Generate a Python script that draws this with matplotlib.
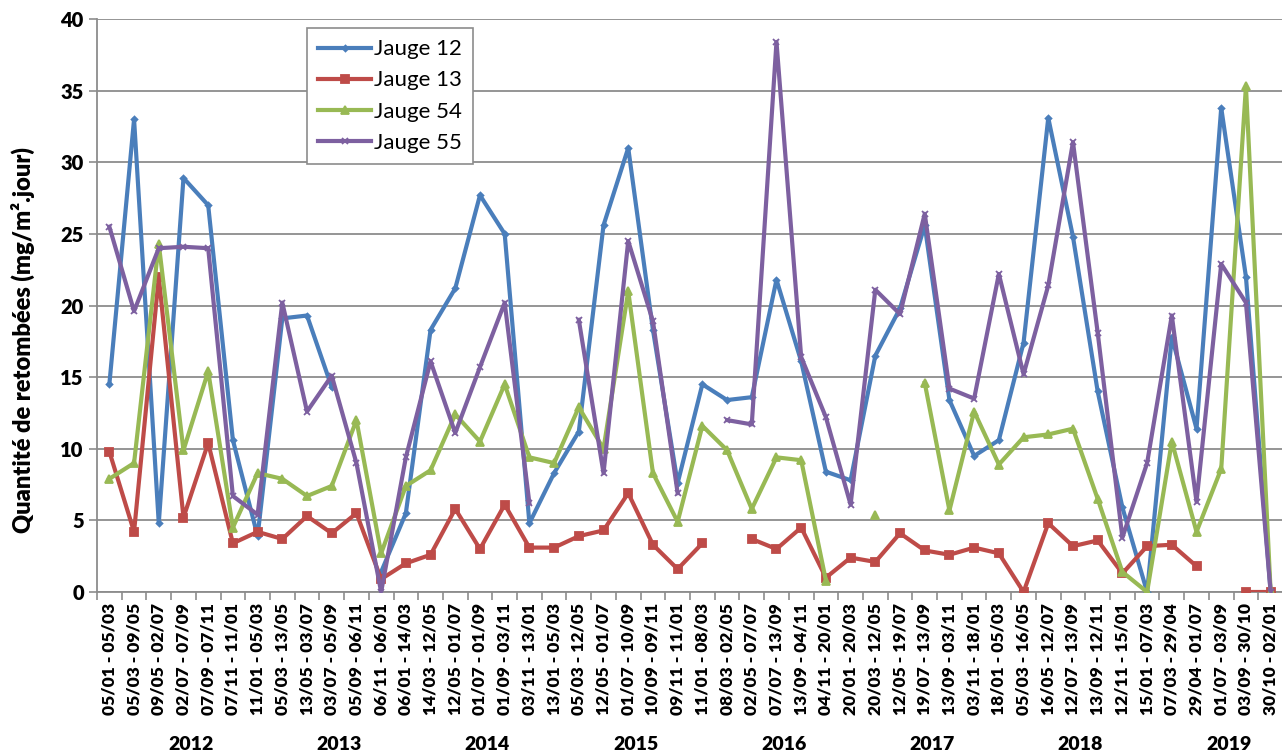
import numpy as np
import matplotlib
matplotlib.use("Agg")
import matplotlib.pyplot as plt
import matplotlib.transforms as mtransforms

# periods (dd/mm - dd/mm), grouped by year
periodes = [
    "05/01 - 05/03", "05/03 - 09/05", "09/05 - 02/07", "02/07 - 07/09", "07/09 - 07/11", "07/11 - 11/01",
    "11/01 - 05/03", "05/03 - 13/05", "13/05 - 03/07", "03/07 - 05/09", "05/09 - 06/11", "06/11 - 06/01",
    "06/01 - 14/03", "14/03 - 12/05", "12/05 - 01/07", "01/07 - 01/09", "01/09 - 03/11", "03/11 - 13/01",
    "13/01 - 05/03", "05/03 - 12/05", "12/05 - 01/07", "01/07 - 10/09", "10/09 - 09/11", "09/11 - 11/01",
    "11/01 - 08/03", "08/03 - 02/05", "02/05 - 07/07", "07/07 - 13/09", "13/09 - 04/11", "04/11 - 20/01",
    "20/01 - 20/03", "20/03 - 12/05", "12/05 - 19/07", "19/07 - 13/09", "13/09 - 03/11", "03/11 - 18/01",
    "18/01 - 05/03", "05/03 - 16/05", "16/05 - 12/07", "12/07 - 13/09", "13/09 - 12/11", "12/11 - 15/01",
    "15/01 - 07/03", "07/03 - 29/04", "29/04 - 01/07", "01/07 - 03/09", "03/09 - 30/10", "30/10 - 02/01",
]
annees = ["2012", "2013", "2014", "2015", "2016", "2017", "2018", "2019"]

# mg/m2.jour, None = no measurement
jauge12 = [14.5, 33.0, 4.8, 28.9, 27.0, 10.6, 3.9, 19.1, 19.3, 14.3, None, 1.4,
           5.5, 18.3, 21.2, 27.7, 25.0, 4.8, 8.3, 11.2, 25.6, 31.0, 18.3, 7.6,
           14.5, 13.4, 13.6, 21.8, 16.1, 8.4, 7.8, 16.5, 19.8, 25.6, 13.4, 9.5,
           10.6, 17.4, 33.1, 24.8, 14.0, 5.9, 0.0, 17.8, 11.4, 33.8, 22.0, 0.0]
jauge13 = [9.8, 4.2, 22.0, 5.2, 10.4, 3.4, 4.2, 3.7, 5.3, 4.1, 5.5, 0.9,
           2.0, 2.6, 5.8, 3.0, 6.1, 3.1, 3.1, 3.9, 4.3, 6.9, 3.3, 1.6,
           3.4, None, 3.7, 3.0, 4.5, 1.0, 2.4, 2.1, 4.1, 2.9, 2.6, 3.1,
           2.7, 0.0, 4.8, 3.2, 3.6, 1.3, 3.2, 3.3, 1.8, None, 0.0, 0.0]
jauge54 = [7.9, 9.0, 24.3, 9.9, 15.4, 4.5, 8.3, 7.9, 6.7, 7.4, 12.0, 2.7,
           7.4, 8.5, 12.4, 10.5, 14.5, 9.4, 9.0, 12.9, 10.0, 21.0, 8.3, 4.9,
           11.6, 9.9, 5.8, 9.4, 9.2, 0.8, None, 5.4, None, 14.6, 5.7, 12.6,
           8.9, 10.8, 11.0, 11.4, 6.5, 1.4, 0.0, 10.5, 4.2, 8.6, 35.3, 0.0]
jauge55 = [25.5, 19.6, 24.0, 24.1, 24.0, 6.7, 5.4, 20.2, 12.6, 15.1, 9.0, 0.0,
           9.4, 16.1, 11.1, 15.7, 20.2, 6.2, None, 19.0, 8.3, 24.5, 18.9, 6.9,
           None, 12.0, 11.7, 38.4, 16.4, 12.2, 6.1, 21.1, 19.4, 26.4, 14.2, 13.5,
           22.2, 15.2, 21.4, 31.4, 18.1, 3.8, 9.0, 19.3, 6.3, 22.9, 20.2, 0.0]

series = [
    ("Jauge 12", jauge12, "#4A7EBB", "D", 3),
    ("Jauge 13", jauge13, "#BE4B48", "s", 5.5),
    ("Jauge 54", jauge54, "#98B954", "^", 5.5),
    ("Jauge 55", jauge55, "#7D60A0", "x", 5),
]

plt.rcParams["font.family"] = ["Lato", "DejaVu Sans"]

fig = plt.figure(figsize=(12.82, 7.56), dpi=100)
ax = fig.add_axes([97 / 1282, 1 - 592 / 756, 1186 / 1282, 573 / 756])

x = np.arange(len(periodes))
for nom, vals, col, mk, ms in series:
    y = np.array([np.nan if v is None else v for v in vals], dtype=float)
    ax.plot(x, y, color=col, lw=3, marker=mk, ms=ms, mew=1.3,
            mfc=col, mec=col, label=nom, zorder=3)

ax.set_xlim(-0.5, len(periodes) - 0.5)
ax.set_ylim(0, 40)
ax.set_yticks(range(0, 41, 5))
ax.yaxis.grid(True, color="#8c8c8c", lw=1.3)
ax.set_axisbelow(True)

ax.set_xticks(x)
ax.set_xticklabels(periodes, rotation=90, fontsize=12.5, fontweight="heavy")
ax.set_xticks(np.arange(-0.5, len(periodes)), minor=True)
ax.tick_params(axis="x", which="major", length=0, pad=8)
ax.tick_params(axis="x", which="minor", length=6, color="#8c8c8c", width=1.2)
ax.tick_params(axis="y", length=6, color="#8c8c8c", width=1.2, labelsize=14.5)
for lab in ax.get_yticklabels():
    lab.set_fontweight("heavy")

for s in ["top", "right"]:
    ax.spines[s].set_visible(False)
for s in ["left", "bottom"]:
    ax.spines[s].set_color("#8c8c8c")
    ax.spines[s].set_linewidth(1.3)

ax.set_ylabel("Quantité de retombées (mg/m².jour)", fontsize=17,
              fontweight="heavy")
ax.yaxis.set_label_coords(-0.052, 0.44)

trans = mtransforms.blended_transform_factory(ax.transData, ax.transAxes)
for k, an in enumerate(annees):
    ax.text(6 * k + 3.3, -0.267, an, transform=trans, ha="center", va="center",
            fontsize=14, fontweight="heavy")

leg = ax.legend(loc="upper left", bbox_to_anchor=(0.177, 0.984), borderaxespad=0,
                fancybox=False, edgecolor="#8c8c8c", framealpha=1,
                fontsize=16, handlelength=2.4, handletextpad=0.1,
                labelspacing=0.5, borderpad=0.5)
leg.get_frame().set_linewidth(1.2)

fig.savefig("out.png", dpi=100)
